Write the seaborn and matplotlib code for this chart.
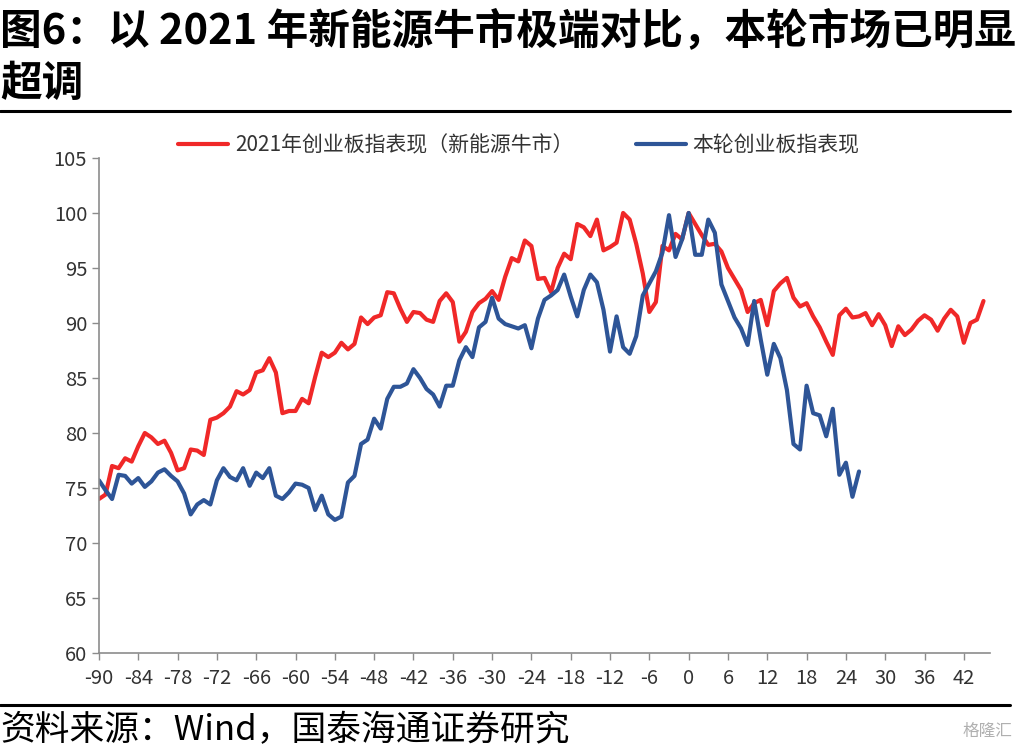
import numpy as np
import pandas as pd
import matplotlib
matplotlib.use("Agg")
import matplotlib.pyplot as plt
import seaborn as sns

# months relative to the peak (0 = peak)
x_2021 = list(range(-90, 46))
x_now = list(range(-90, 27))

# 2021 ChiNext (new-energy bull market), peak = 100
red_2021 = [
    74.0, 74.4, 77.0, 76.8, 77.7, 77.4, 78.8, 80.0, 79.6, 79.0,
    79.3, 78.2, 76.6, 76.8, 78.5, 78.4, 78.0, 81.2, 81.4, 81.8,
    82.4, 83.8, 83.5, 83.9, 85.5, 85.7, 86.8, 85.5, 81.8, 82.0,
    82.0, 83.1, 82.7, 85.1, 87.3, 86.9, 87.3, 88.2, 87.6, 88.1,
    90.5, 89.9, 90.5, 90.7, 92.8, 92.7, 91.3, 90.1, 91.0, 90.9,
    90.3, 90.1, 92.0, 92.7, 91.9, 88.3, 89.2, 91.0, 91.8, 92.2,
    92.9, 92.1, 94.2, 95.9, 95.6, 97.5, 97.0, 94.0, 94.1, 92.8,
    95.0, 96.3, 95.8, 99.0, 98.7, 97.9, 99.4, 96.6, 96.9, 97.3,
    100.0, 99.4, 97.2, 94.5, 91.0, 91.9, 97.0, 96.6, 98.1, 97.6,
    100.0, 99.0, 98.0, 97.1, 97.2, 96.5, 95.0, 94.0, 93.0, 91.0,
    91.8, 92.1, 89.8, 92.9, 93.6, 94.1, 92.3, 91.5, 91.8, 90.6,
    89.6, 88.3, 87.1, 90.7, 91.3, 90.5, 90.6, 90.9, 89.8, 90.8,
    89.8, 87.9, 89.7, 88.9, 89.4, 90.2, 90.7, 90.3, 89.3, 90.4,
    91.2, 90.6, 88.2, 90.0, 90.3, 92.0,
]

# current ChiNext cycle, peak = 100
blue_now = [
    75.7, 74.8, 74.0, 76.2, 76.1, 75.4, 75.9, 75.1, 75.6, 76.4,
    76.7, 76.1, 75.6, 74.5, 72.6, 73.5, 73.9, 73.5, 75.7, 76.8,
    76.0, 75.7, 76.8, 75.2, 76.4, 75.9, 76.8, 74.3, 74.0, 74.6,
    75.4, 75.3, 75.0, 73.0, 74.3, 72.6, 72.1, 72.4, 75.5, 76.1,
    79.0, 79.4, 81.3, 80.4, 83.1, 84.2, 84.2, 84.5, 85.8, 85.0,
    84.0, 83.5, 82.4, 84.3, 84.3, 86.6, 87.8, 86.9, 89.6, 90.1,
    92.3, 90.4, 89.9, 89.7, 89.5, 89.8, 87.7, 90.4, 92.1, 92.5,
    93.0, 94.4, 92.4, 90.6, 93.0, 94.4, 93.7, 91.2, 87.4, 90.6,
    87.8, 87.2, 88.8, 92.5, 93.6, 94.7, 96.4, 99.8, 96.0, 97.6,
    100.0, 96.2, 96.2, 99.4, 98.2, 93.5, 92.0, 90.5, 89.5, 88.0,
    92.0, 88.5, 85.3, 88.1, 86.8, 83.9, 79.0, 78.5, 84.3, 81.8,
    81.6, 79.7, 82.2, 76.2, 77.3, 74.2, 76.5,
]

label_2021 = "2021年创业板指表现（新能源牛市）"
label_now = "本轮创业板指表现"
x_ticks = list(range(-90, 43, 6))
y_ticks = list(range(60, 106, 5))

sns.set_theme(style="white")
plt.rcParams['font.family'] = ['Noto Sans CJK SC', 'DejaVu Sans']
plt.rcParams['axes.unicode_minus'] = False

fig = plt.figure(figsize=(10.17, 7.53), dpi=100)
ax = fig.add_axes([0.0973, 0.1328, 0.8762, 0.6574])

df_2021 = pd.DataFrame({"month": x_2021, "value": red_2021})
df_now = pd.DataFrame({"month": x_now, "value": blue_now})
sns.lineplot(data=df_2021, x="month", y="value", ax=ax, color="#F02828",
             linewidth=3, label=label_2021)
sns.lineplot(data=df_now, x="month", y="value", ax=ax, color="#2E5597",
             linewidth=3, label=label_now)

ax.set_xlim(-90, 46)
ax.set_ylim(60, 105)
ax.set_xticks(x_ticks)
ax.set_yticks(y_ticks)
ax.set_xlabel("")
ax.set_ylabel("")
for s in ["top", "right"]:
    ax.spines[s].set_visible(False)
for s in ["left", "bottom"]:
    ax.spines[s].set_color("#8c8c8c")
    ax.spines[s].set_linewidth(1.2)
ax.tick_params(axis="both", direction="out", length=5, width=1, color="#8c8c8c",
               labelsize=14.5, labelcolor="#333333", bottom=True, left=True)
ax.tick_params(axis="x", pad=6)

leg = ax.legend(loc="center", bbox_to_anchor=(0.51, 0.807),
                bbox_transform=fig.transFigure, ncol=2, frameon=False,
                fontsize=15, handlelength=2.4, columnspacing=3.0,
                handletextpad=0.3)
for t in leg.get_texts():
    t.set_color("#333333")

fig.text(0.0, 0.959, "图6：以 2021 年新能源牛市极端对比，本轮市场已明显",
         fontsize=30, fontweight="bold", va="center", ha="left", color="black")
fig.text(0.0, 0.888, "超调", fontsize=30, fontweight="bold", va="center",
         ha="left", color="black")
fig.add_artist(plt.Line2D([0.0, 0.993], [0.8526, 0.8526], color="black",
                          linewidth=2.2, transform=fig.transFigure))
fig.add_artist(plt.Line2D([0.0, 0.993], [0.0637, 0.0637], color="black",
                          linewidth=2.2, transform=fig.transFigure))
fig.text(0.0, 0.030, "资料来源：Wind，国泰海通证券研究", fontsize=25,
         va="center", ha="left", color="black")
fig.text(0.995, 0.028, "格隆汇", fontsize=12, va="center", ha="right",
         color="#b0b0b0")

fig.savefig("out.png", dpi=100)
